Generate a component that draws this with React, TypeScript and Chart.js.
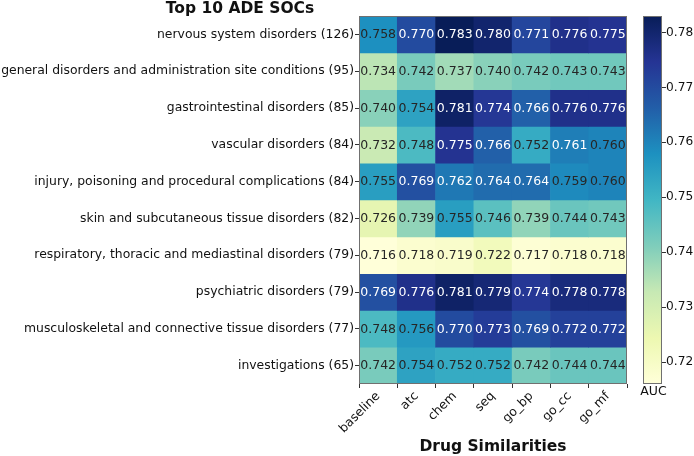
import React, { useEffect, useRef } from "react";
import { Chart, registerables } from "chart.js";

Chart.register(...registerables);

// ---------- data ----------
const rowLabels = [
  "nervous system disorders (126)",
  "general disorders and administration site conditions (95)",
  "gastrointestinal disorders (85)",
  "vascular disorders (84)",
  "injury, poisoning and procedural complications (84)",
  "skin and subcutaneous tissue disorders (82)",
  "respiratory, thoracic and mediastinal disorders (79)",
  "psychiatric disorders (79)",
  "musculoskeletal and connective tissue disorders (77)",
  "investigations (65)",
];

const colLabels = ["baseline", "atc", "chem", "seq", "go_bp", "go_cc", "go_mf"];

const nervous = [0.758, 0.77, 0.783, 0.78, 0.771, 0.776, 0.775];
const general = [0.734, 0.742, 0.737, 0.74, 0.742, 0.743, 0.743];
const gastro = [0.74, 0.754, 0.781, 0.774, 0.766, 0.776, 0.776];
const vascular = [0.732, 0.748, 0.775, 0.766, 0.752, 0.761, 0.76];
const injury = [0.755, 0.769, 0.762, 0.764, 0.764, 0.759, 0.76];
const skin = [0.726, 0.739, 0.755, 0.746, 0.739, 0.744, 0.743];
const respiratory = [0.716, 0.718, 0.719, 0.722, 0.717, 0.718, 0.718];
const psychiatric = [0.769, 0.776, 0.781, 0.779, 0.774, 0.778, 0.778];
const musculo = [0.748, 0.756, 0.77, 0.773, 0.769, 0.772, 0.772];
const investigations = [0.742, 0.754, 0.752, 0.752, 0.742, 0.744, 0.744];

const aucRows = [
  nervous,
  general,
  gastro,
  vascular,
  injury,
  skin,
  respiratory,
  psychiatric,
  musculo,
  investigations,
];

const colorbarTicks = [0.72, 0.73, 0.74, 0.75, 0.76, 0.77, 0.78];
const vmin = 0.716;
const vmax = 0.783;
const whiteTextAbove = 0.7605;

const chartTitle = "Top 10 ADE SOCs";
const xTitle = "Drug Similarities";
const colorbarTitle = "AUC";

// YlGnBu colour stops
const YLGNBU: number[][] = [
  [255, 255, 217],
  [237, 248, 177],
  [199, 233, 180],
  [127, 205, 187],
  [65, 182, 196],
  [29, 145, 192],
  [34, 94, 168],
  [37, 52, 148],
  [8, 29, 88],
];

const FONT = "'DejaVu Sans', sans-serif";
const TEXT = "#111111";
const FRAME = "#707070";
const TICK = "#333333";

function rgb(c: number[]) {
  return `rgb(${Math.round(c[0])},${Math.round(c[1])},${Math.round(c[2])})`;
}

function cmap(v: number) {
  let t = (v - vmin) / (vmax - vmin);
  t = Math.max(0, Math.min(1, t));
  const s = t * (YLGNBU.length - 1);
  const i = Math.min(YLGNBU.length - 2, Math.floor(s));
  const f = s - i;
  const a = YLGNBU[i];
  const b = YLGNBU[i + 1];
  return rgb([0, 1, 2].map((k) => a[k] + (b[k] - a[k]) * f));
}

const framePlugin = {
  id: "frame",
  afterDatasetsDraw(chart: any) {
    const { ctx, chartArea: a } = chart;
    ctx.save();
    ctx.strokeStyle = FRAME;
    ctx.lineWidth = 1;
    ctx.strokeRect(a.left + 0.5, a.top + 0.5, a.right - a.left - 1, a.bottom - a.top - 1);
    ctx.restore();
  },
};

const cellTextPlugin = {
  id: "cellText",
  afterDatasetsDraw(chart: any) {
    const { ctx } = chart;
    ctx.save();
    ctx.font = `12.5px ${FONT}`;
    ctx.textAlign = "center";
    ctx.textBaseline = "middle";
    aucRows.forEach((row, i) => {
      const meta = chart.getDatasetMeta(i);
      row.forEach((v, j) => {
        const el = meta.data[j];
        if (!el) return;
        const p = el.getCenterPoint();
        ctx.fillStyle = v > whiteTextAbove ? "#ffffff" : "#262626";
        ctx.fillText(v.toFixed(3), p.x, p.y + 0.5);
      });
    });
    ctx.restore();
  },
};

const titlePlugin = {
  id: "topTitle",
  afterDraw(chart: any) {
    const { ctx } = chart;
    ctx.save();
    ctx.font = `bold 15.5px ${FONT}`;
    ctx.fillStyle = TEXT;
    ctx.textAlign = "center";
    ctx.textBaseline = "alphabetic";
    ctx.fillText(chartTitle, 240, 12.5);
    ctx.restore();
  },
};

const cbTitlePlugin = {
  id: "cbTitle",
  afterDraw(chart: any) {
    const { ctx, chartArea: a } = chart;
    ctx.save();
    ctx.font = `12.5px ${FONT}`;
    ctx.fillStyle = TEXT;
    ctx.textAlign = "center";
    ctx.textBaseline = "middle";
    ctx.fillText(colorbarTitle, (a.left + a.right) / 2 + 1, a.bottom + 8);
    ctx.restore();
  },
};

export default function App() {
  const mainRef = useRef<HTMLCanvasElement>(null);
  const cbRef = useRef<HTMLCanvasElement>(null);

  useEffect(() => {
    if (!mainRef.current || !cbRef.current) return;

    const main = new Chart(mainRef.current, {
      type: "bar",
      data: {
        labels: colLabels,
        datasets: aucRows.map((row, i) => ({
          label: rowLabels[i],
          data: row.map(() => [i - 0.5, i + 0.5]),
          backgroundColor: row.map(cmap),
          borderWidth: 0,
          barPercentage: 1,
          categoryPercentage: 1,
          grouped: false,
        })),
      } as any,
      options: {
        animation: false,
        responsive: false,
        maintainAspectRatio: false,
        layout: { padding: { left: 0, top: 16, right: 67, bottom: 0 } },
        plugins: {
          legend: { display: false },
          tooltip: { enabled: false },
          title: { display: false },
        },
        scales: {
          x: {
            type: "category",
            ticks: {
              maxRotation: 45,
              minRotation: 45,
              autoSkip: false,
              font: { family: FONT, size: 12.4 },
              color: TEXT,
              padding: 1,
            },
            grid: { drawOnChartArea: false, tickLength: 4, color: TICK },
            border: { display: false },
            title: {
              display: true,
              text: xTitle,
              font: { family: FONT, size: 15.5, weight: "bold" },
              color: TEXT,
              padding: { top: 0, bottom: 0 },
            },
            afterFit: (s: any) => {
              s.height = 72;
            },
          },
          y: {
            type: "linear",
            min: -0.5,
            max: 9.5,
            reverse: true,
            afterBuildTicks: (s: any) => {
              s.ticks = rowLabels.map((_, i) => ({ value: i }));
            },
            ticks: {
              autoSkip: false,
              callback: (v: any) => rowLabels[v as number],
              font: { family: FONT, size: 12.4 },
              color: TEXT,
              padding: 1,
            },
            grid: { drawOnChartArea: false, tickLength: 4, color: TICK },
            border: { display: false },
            afterFit: (s: any) => {
              s.width = 359;
            },
          },
        },
      } as any,
      plugins: [cellTextPlugin, framePlugin, titlePlugin],
    });

    const cb = new Chart(cbRef.current, {
      type: "bar",
      data: {
        labels: [""],
        datasets: [
          {
            data: [[vmin, vmax]],
            backgroundColor: (ctx: any) => {
              const chart = ctx.chart;
              const a = chart.chartArea;
              if (!a) return cmap((vmin + vmax) / 2);
              const g = chart.ctx.createLinearGradient(0, a.bottom, 0, a.top);
              YLGNBU.forEach((c, i) => g.addColorStop(i / (YLGNBU.length - 1), rgb(c)));
              return g;
            },
            borderWidth: 0,
            barPercentage: 1,
            categoryPercentage: 1,
          },
        ],
      } as any,
      options: {
        animation: false,
        responsive: false,
        maintainAspectRatio: false,
        layout: { padding: { left: 43, top: 16, right: 0, bottom: 0 } },
        plugins: {
          legend: { display: false },
          tooltip: { enabled: false },
        },
        scales: {
          x: {
            ticks: { display: false },
            grid: { display: false },
            border: { display: false },
            afterFit: (s: any) => {
              s.height = 72;
            },
          },
          y: {
            position: "right",
            min: vmin,
            max: vmax,
            afterBuildTicks: (s: any) => {
              s.ticks = colorbarTicks.map((v) => ({ value: v }));
            },
            ticks: {
              autoSkip: false,
              callback: (v: any) => Number(v).toFixed(2),
              font: { family: FONT, size: 12.2 },
              color: TEXT,
              padding: 0,
            },
            grid: { drawOnChartArea: false, tickLength: 4, color: TICK },
            border: { display: false },
            afterFit: (s: any) => {
              s.width = 32;
            },
          },
        },
      } as any,
      plugins: [framePlugin, cbTitlePlugin],
    });

    return () => {
      main.destroy();
      cb.destroy();
    };
  }, []);

  return (
    <div
      style={{
        position: "absolute",
        left: 0,
        top: 0,
        width: 694,
        height: 456,
        background: "#ffffff",
        overflow: "hidden",
      }}
    >
      <canvas
        ref={mainRef}
        width={694}
        height={456}
        style={{ position: "absolute", left: 0, top: 0, width: 694, height: 456 }}
      />
      <canvas
        ref={cbRef}
        width={94}
        height={456}
        style={{ position: "absolute", left: 600, top: 0, width: 94, height: 456 }}
      />
    </div>
  );
}
